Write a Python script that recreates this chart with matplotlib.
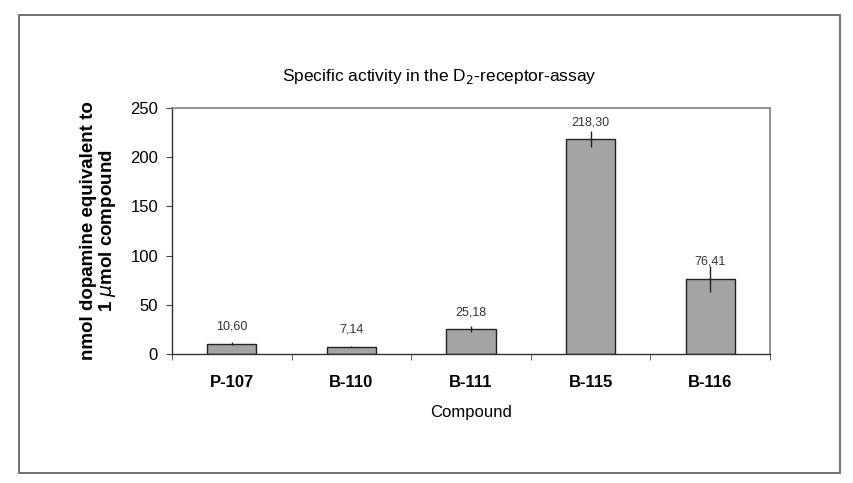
import matplotlib.pyplot as plt
import numpy as np
from matplotlib.patches import Rectangle

plt.rcParams['font.family'] = ['Liberation Sans', 'DejaVu Sans']

# values
compounds = ['P-107', 'B-110', 'B-111', 'B-115', 'B-116']
activity = [10.60, 7.14, 25.18, 218.30, 76.41]
errors = [1.5, 0.5, 3.0, 8.0, 13.5]
labels = ['10,60', '7,14', '25,18', '218,30', '76,41']

W, H = 854, 483
fig = plt.figure(figsize=(W / 100, H / 100), dpi=100)
# outer frame round the chart
fig.patches.append(Rectangle((19 / W, 1 - 473 / H), 821 / W, 458 / H,
                             transform=fig.transFigure, fill=False,
                             edgecolor='#707070', lw=1.4))

ax = fig.add_axes([172 / W, 1 - 354 / H, 598 / W, 246 / H])
x = np.arange(len(compounds))
ax.bar(x, activity, width=0.41, color='#a4a4a4', edgecolor='#222222', lw=1.0)
ax.errorbar(x, activity, yerr=errors, fmt='none', ecolor='#222222',
            elinewidth=1.0, capsize=0)
for xi, v, t in zip(x, activity, labels):
    ax.annotate(t, (xi, v), xytext=(0, 8), textcoords='offset points',
                ha='center', va='bottom', fontsize=9, color='#333333')

ax.set_xlim(-0.5, len(compounds) - 0.5)
ax.set_ylim(0, 250)
ax.set_yticks(np.arange(0, 251, 50))
ax.set_xticks(x)
ax.set_xticklabels(compounds, fontsize=12, fontweight='bold')
ax.set_xticks(np.arange(-0.5, len(compounds)), minor=True)
ax.tick_params(axis='x', which='major', length=0, pad=15)
ax.tick_params(axis='x', which='minor', length=4, direction='out', color='#444444')
ax.tick_params(axis='y', length=4, pad=6, direction='out', labelsize=12,
               color='#444444')

for s in ['top', 'right']:
    ax.spines[s].set_color('#808080')
    ax.spines[s].set_linewidth(1.2)
for s in ['left', 'bottom']:
    ax.spines[s].set_color('#333333')
    ax.spines[s].set_linewidth(1.0)

ax.set_xlabel('Compound', fontsize=12, labelpad=11)
fig.text(99 / W, 1 - 231 / H, 'nmol dopamine equivalent to\n1 $\\mu$mol compound',
         rotation=90, ha='center', va='center', multialignment='center',
         fontsize=13.5, fontweight='bold', linespacing=1.05)
fig.text(439 / W, 1 - 76 / H, 'Specific activity in the D$_2$-receptor-assay',
         ha='center', va='center', fontsize=12.5)

fig.savefig('out.png', dpi=100)
